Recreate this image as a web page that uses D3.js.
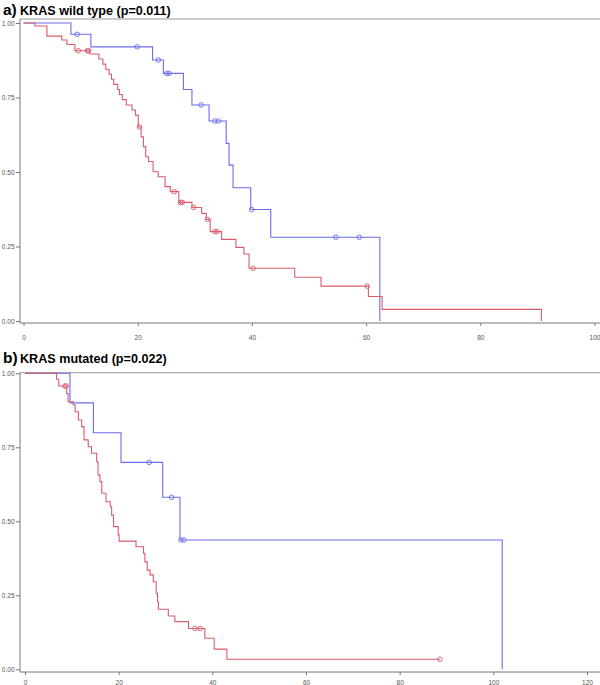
<!DOCTYPE html>
<html><head><meta charset="utf-8">
<script src="https://cdn.jsdelivr.net/npm/d3@7"></script>
<style>
body{margin:0;background:#fff;}
svg{display:block;}
</style></head>
<body>
<svg id="c" width="600" height="685"></svg>
<script>
// ---------- DATA ----------
// Panel a) KRAS wild type
const aTitlePrefix = "a)";
const aTitle = "KRAS wild type (p=0.011)";
const aXTicks = [0, 20, 40, 60, 80, 100];
const yTicks = [0, 0.25, 0.5, 0.75, 1];
// blue group: event times and survival after each drop
const aBlueTimes = [0, 8.3, 11.8, 22.6, 24.5, 28.0, 29.5, 32.5, 35.5, 36.0, 36.7, 39.8, 43.3, 62.4];
const aBlueSurv  = [1, 0.962, 0.920, 0.876, 0.831, 0.777, 0.725, 0.671, 0.596, 0.523, 0.447, 0.374, 0.281, 0];
const aBlueCens  = [9.4, 19.9, 23.6, 25.1, 25.5, 31.1, 33.5, 34.1, 39.95, 54.7, 58.8];
// red group
const aRedTimes = [0, 2.0, 4.1, 6.7, 7.6, 9.0, 11.6, 13.2, 13.9, 14.4, 15.0, 15.4, 15.8, 16.5, 16.8, 17.3, 18.0, 19.0, 19.6, 20.1, 20.6, 21.0, 21.4, 21.9, 22.7, 23.6, 24.8, 25.7, 27.2, 29.5, 31.2, 32.0, 32.7, 34.7, 37.2, 38.6, 39.5, 47.5, 52.1, 60.4, 62.8, 90.7];
const aRedSurv  = [1, 0.990, 0.956, 0.943, 0.928, 0.907, 0.896, 0.879, 0.862, 0.845, 0.828, 0.811, 0.794, 0.777, 0.760, 0.743, 0.725, 0.708, 0.691, 0.651, 0.618, 0.585, 0.551, 0.535, 0.501, 0.484, 0.451, 0.434, 0.398, 0.381, 0.361, 0.341, 0.300, 0.274, 0.247, 0.225, 0.177, 0.147, 0.117, 0.082, 0.039, 0];
const aRedCens  = [9.6, 11.2, 11.4, 20.3, 26.4, 27.5, 27.8, 29.8, 32.2, 33.5, 33.9, 40.2, 60.2];

// Panel b) KRAS mutated
const bTitlePrefix = "b)";
const bTitle = "KRAS mutated (p=0.022)";
const bXTicks = [0, 20, 40, 60, 80, 100, 120];
const bBlueTimes = [0, 9.6, 14.6, 20.5, 29.4, 33.1, 101.9];
const bBlueSurv  = [1, 0.900, 0.799, 0.699, 0.581, 0.437, 0];
const bBlueCens  = [26.5, 31.3, 33.3, 33.9];
const bRedTimes = [0, 6.75, 7.2, 8.9, 9.2, 10.3, 10.7, 11.4, 12.1, 12.6, 13.5, 14.2, 15.3, 15.6, 16.0, 16.4, 17.3, 18.2, 18.5, 18.9, 19.9, 20.1, 23.7, 25.3, 25.6, 26.1, 26.7, 27.4, 28.0, 28.3, 28.5, 30.6, 32.0, 34.9, 38.4, 40.4, 43.1];
const bRedSurv  = [1, 0.980, 0.957, 0.932, 0.904, 0.893, 0.870, 0.842, 0.820, 0.775, 0.752, 0.730, 0.701, 0.656, 0.634, 0.595, 0.566, 0.549, 0.521, 0.482, 0.454, 0.433, 0.414, 0.392, 0.363, 0.335, 0.319, 0.296, 0.257, 0.228, 0.203, 0.180, 0.161, 0.138, 0.105, 0.068, 0.034];
const bRedCens  = [8.5, 8.8, 36.3, 37.4, 88.6];
const bRedEnd = 88.6;

// ---------- DRAW ----------
const svg = d3.select("#c");
const BLUE = "#6b6bf0", RED = "#d95c6c";

function panel(cfg) {
  const g = svg.append("g");
  const x = d3.scaleLinear().domain(cfg.xDomain).range(cfg.xRange);
  const y = d3.scaleLinear().domain([0, 1]).range(cfg.yRange);

  // title
  const t = g.append("text").attr("x", 3).attr("y", cfg.titleY)
    .attr("font-family", "Liberation Sans, Arial, sans-serif").attr("font-weight", "bold").attr("fill", "#000");
  t.append("tspan").attr("font-size", 15.5).text(cfg.prefix);
  t.append("tspan").attr("font-size", 12.6).attr("x", 20).text(cfg.title);

  // frame
  g.append("line").attr("x1", cfg.frame.left).attr("x2", 600).attr("y1", cfg.frame.top).attr("y2", cfg.frame.top)
    .attr("stroke", "#999").attr("stroke-width", 1);
  g.append("line").attr("x1", cfg.frame.left).attr("x2", cfg.frame.left).attr("y1", cfg.frame.top).attr("y2", cfg.frame.bottom)
    .attr("stroke", "#777").attr("stroke-width", 1);
  g.append("line").attr("x1", cfg.frame.left).attr("x2", 600).attr("y1", cfg.frame.bottom).attr("y2", cfg.frame.bottom)
    .attr("stroke", "#777").attr("stroke-width", 1);

  // y axis
  const ya = g.append("g").attr("transform", `translate(${cfg.frame.left},0)`)
    .call(d3.axisLeft(y).tickValues(yTicks).tickFormat(d3.format(".2f")).tickSize(4).tickSizeOuter(0).tickPadding(1.5));
  ya.select(".domain").remove();
  ya.selectAll("line").attr("stroke", "#777");
  ya.selectAll("text").attr("font-size", 6.5).attr("fill", "#555").attr("font-family", "Liberation Sans, Arial, sans-serif");

  // x axis
  const xa = g.append("g").attr("transform", `translate(0,${cfg.frame.bottom})`)
    .call(d3.axisBottom(x).tickValues(cfg.xTicks).tickFormat(d3.format("d")).tickSize(3).tickSizeOuter(0).tickPadding(cfg.xPad));
  xa.select(".domain").remove();
  xa.selectAll("line").attr("stroke", "#777");
  xa.selectAll("text").attr("font-size", 6.5).attr("fill", "#555").attr("font-family", "Liberation Sans, Arial, sans-serif");

  const line = d3.line().x(d => x(d[0])).y(d => y(d[1])).curve(d3.curveStepAfter);
  function survAt(times, surv, tt) {
    const i = d3.bisectRight(times, tt) - 1;
    return surv[Math.max(0, i)];
  }
  function curve(times, surv, cens, color, endT) {
    const pts = times.map((tm, i) => [tm, surv[i]]);
    if (endT !== undefined) pts.push([endT, surv[surv.length - 1]]);
    g.append("path").attr("d", line(pts)).attr("fill", "none")
      .attr("stroke", color).attr("stroke-width", 1.1);
    g.selectAll(null).data(cens).enter().append("circle")
      .attr("cx", d => x(d)).attr("cy", d => y(survAt(times, surv, d)))
      .attr("r", 2.3).attr("fill", "none").attr("stroke", color).attr("stroke-width", 0.9);
  }
  curve(cfg.blue[0], cfg.blue[1], cfg.blue[2], BLUE, cfg.blue[3]);
  curve(cfg.red[0], cfg.red[1], cfg.red[2], RED, cfg.red[3]);
}

panel({
  prefix: aTitlePrefix, title: aTitle, titleY: 15,
  xDomain: [0, 100], xRange: [23.5, 594.5], yRange: [321, 23],
  frame: {left: 20, top: 19, bottom: 323}, xTicks: aXTicks, xPad: 9,
  blue: [aBlueTimes, aBlueSurv, aBlueCens, undefined],
  red: [aRedTimes, aRedSurv, aRedCens, undefined]
});
panel({
  prefix: bTitlePrefix, title: bTitle, titleY: 363,
  xDomain: [0, 120], xRange: [25, 587], yRange: [669.3, 373.3],
  frame: {left: 20, top: 372.7, bottom: 672}, xTicks: bXTicks, xPad: 5,
  blue: [bBlueTimes, bBlueSurv, bBlueCens, undefined],
  red: [bRedTimes, bRedSurv, bRedCens, bRedEnd]
});
</script>
</body></html>
